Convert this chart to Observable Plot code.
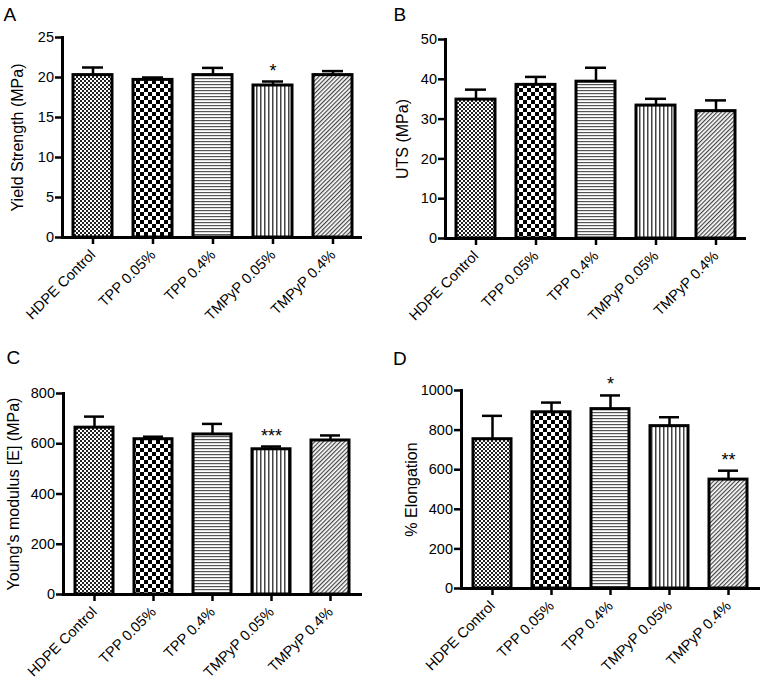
<!DOCTYPE html>
<html><head><meta charset="utf-8">
<script src="https://cdn.jsdelivr.net/npm/d3@7"></script>
<script src="https://cdn.jsdelivr.net/npm/@observablehq/plot@0.6"></script>
<style>
body{margin:0;background:#fff;font-family:Arial,"Liberation Sans",sans-serif;}
#wrap{position:relative;width:766px;height:682px;overflow:hidden;}
.panel{position:absolute;}
.letter{position:absolute;font-size:19px;line-height:1;color:#000;font-family:Arial,"Liberation Sans",sans-serif;}
</style></head><body>
<svg width="0" height="0" style="position:absolute">
<defs>
<pattern id="pat0" width="4" height="4" patternUnits="userSpaceOnUse">
 <rect width="4" height="4" fill="#fff"/>
 <rect x="0" y="0" width="2" height="2" fill="#222"/>
 <rect x="2" y="2" width="2" height="2" fill="#222"/>
</pattern>
<pattern id="pat1" width="8" height="8" patternUnits="userSpaceOnUse">
 <rect width="8" height="8" fill="#fff"/>
 <rect width="4" height="4" fill="#000"/>
 <rect x="4" y="4" width="4" height="4" fill="#000"/>
</pattern>
<pattern id="pat2" width="4" height="3" patternUnits="userSpaceOnUse">
 <rect width="4" height="3" fill="#fff"/>
 <rect width="4" height="1.2" fill="#555"/>
</pattern>
<pattern id="pat3" width="4" height="4" patternUnits="userSpaceOnUse">
 <rect width="4" height="4" fill="#fff"/>
 <rect width="1.5" height="4" fill="#444"/>
</pattern>
<pattern id="pat4" width="3" height="3" patternUnits="userSpaceOnUse" patternTransform="rotate(45)">
 <rect width="3" height="3" fill="#fff"/>
 <rect width="1.2" height="3" fill="#444"/>
</pattern>
</defs>
</svg>
<div id="wrap"></div>
<script>
// ---- data ----
const groups = ["HDPE Control", "TPP 0.05%", "TPP 0.4%", "TMPyP 0.05%", "TMPyP 0.4%"];

const yieldMean = [20.3, 19.7, 20.3, 19.0, 20.3];
const yieldErr  = [0.95, 0.3, 0.9, 0.5, 0.5];
const yieldSig  = ["", "", "", "*", ""];
const yieldTicks = [0, 5, 10, 15, 20, 25];

const utsMean = [34.9, 38.6, 39.4, 33.4, 32.0];
const utsErr  = [2.5, 2.0, 3.5, 1.7, 2.7];
const utsSig  = ["", "", "", "", ""];
const utsTicks = [0, 10, 20, 30, 40, 50];

const youngMean = [664, 618, 637, 578, 613];
const youngErr  = [44, 10, 42, 11, 20];
const youngSig  = ["", "", "", "***", ""];
const youngTicks = [0, 200, 400, 600, 800];

const elongMean = [754, 890, 906, 820, 550];
const elongErr  = [118, 49, 69, 45, 45];
const elongSig  = ["", "", "*", "", "**"];
const elongTicks = [0, 200, 400, 600, 800, 1000];

const panelLetters = ["A", "B", "C", "D"];
const yLabels = ["Yield Strength (MPa)", "UTS (MPa)", "Young's modulus [E] (MPa)", "% Elongation"];

// ---- styling ----
const patternFills = ["url(#pat0)", "url(#pat1)", "url(#pat2)", "url(#pat3)", "url(#pat4)"];

const panels = [
  {mean: yieldMean, err: yieldErr, sig: yieldSig, ticks: yieldTicks,
   left: 0, top: 0, h: 340, mL: 62, mR: 21, mT: 37, mB: 103, lab: 51,
   letter: {left: 3.5, top: 4.5}},
  {mean: utsMean, err: utsErr, sig: utsSig, ticks: utsTicks,
   left: 383, top: 0, h: 340, mL: 62, mR: 20, mT: 39, mB: 102, lab: 49,
   letter: {left: 393.5, top: 4.5}},
  {mean: youngMean, err: youngErr, sig: youngSig, ticks: youngTicks,
   left: 0, top: 340, h: 342, mL: 63, mR: 21, mT: 53, mB: 88, lab: 56,
   letter: {left: 6.5, top: 347.5}},
  {mean: elongMean, err: elongErr, sig: elongSig, ticks: elongTicks,
   left: 383, top: 340, h: 342, mL: 78, mR: 6, mT: 50, mB: 94, lab: 56,
   letter: {left: 393, top: 349}}
];

const wrap = document.getElementById("wrap");

panels.forEach((p, i) => {
  const rows = groups.map((g, j) => ({g, v: p.mean[j], e: p.err[j], s: p.sig[j]}));
  const top = p.ticks[p.ticks.length - 1];
  const chart = Plot.plot({
    width: 383,
    height: p.h,
    marginLeft: p.mL,
    marginRight: p.mR,
    marginTop: p.mT,
    marginBottom: p.mB,
    style: {fontFamily: "Arial, 'Liberation Sans', sans-serif", fontSize: "14.5px", color: "#000", background: "transparent", overflow: "visible"},
    x: {domain: groups, paddingInner: 0.35, paddingOuter: 0.175},
    y: {domain: [0, top]},
    color: {type: "ordinal", domain: groups, range: patternFills},
    marks: [
      Plot.ruleX(rows, {x: "g", y1: "v", y2: d => d.v + d.e, stroke: "#000", strokeWidth: 2.5}),
      Plot.tickY(rows, {x: "g", y: d => d.v + d.e, stroke: "#000", strokeWidth: 2.5, insetLeft: 9, insetRight: 9}),
      Plot.barY(rows, {x: "g", y: "v", fill: "g", stroke: "#000", strokeWidth: 3}),
      Plot.text(rows, {x: "g", y: d => d.v + d.e, text: "s", dy: -5, lineAnchor: "bottom", fontSize: 18, fill: "#000"}),
      Plot.frame({anchor: "left", stroke: "#000", strokeWidth: 3}),
      Plot.ruleY([0], {stroke: "#000", strokeWidth: 3}),
      Plot.axisY({ticks: p.ticks, tickFormat: "d", tickSize: 7, strokeWidth: 2.5, tickPadding: 1.5, fontSize: 14.5, label: null}),
      Plot.axisX({tickSize: 7, strokeWidth: 2.5, tickRotate: -45, tickPadding: 8, fontSize: 14.5, label: null}),
      Plot.text([yLabels[i]], {frameAnchor: "left", textAnchor: "middle", rotate: -90, lineAnchor: "top", dx: -p.lab, fontSize: 16, fill: "#000"})
    ]
  });
  const div = document.createElement("div");
  div.className = "panel";
  div.style.left = p.left + "px";
  div.style.top = p.top + "px";
  div.appendChild(chart);
  wrap.appendChild(div);

  const L = document.createElement("div");
  L.className = "letter";
  L.textContent = panelLetters[i];
  L.style.left = p.letter.left + "px";
  L.style.top = p.letter.top + "px";
  wrap.appendChild(L);
});
</script>
</body></html>
